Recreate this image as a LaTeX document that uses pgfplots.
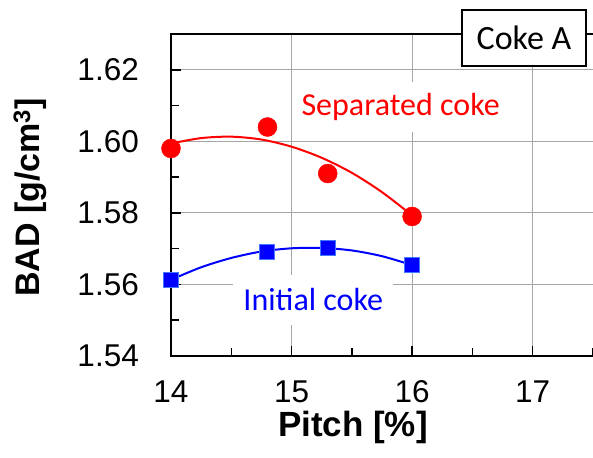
\documentclass[border=0pt]{standalone}
\usepackage{pgfplots}
\pgfplotsset{compat=1.18}
\usepackage{fontspec}
\setmainfont{Liberation Sans}
\newfontfamily\carlito{Carlito}
\definecolor{sqedge}{RGB}{70,120,255}
\begin{document}
\fontsize{30bp}{36bp}\selectfont
\begin{tikzpicture}[x=1bp,y=1bp]
\path[use as bounding box] (0,0) rectangle (593,458);
\clip (0,0) rectangle (593,458);
\begin{axis}[
  at={(171bp,102bp)}, anchor=south west,
  scale only axis, width=424bp, height=322bp,
  xmin=14, xmax=17.517, ymin=1.54, ymax=1.63,
  xtick={14,15,16,17}, ytick={1.54,1.56,1.58,1.60,1.62},
  minor xtick={14.5,15.5,16.5,17.5}, minor ytick={1.55,1.57,1.59,1.61},
  xtick pos=bottom, ytick pos=left,
  tick align=inside, major tick length=10bp, minor tick length=8bp,
  tick style={black, line width=1.5bp},
  xmajorgrids, ymajorgrids, grid style={black!35, line width=1bp},
  axis line style={line width=2bp},
  /pgf/number format/assume math mode=true,
  yticklabel style={/pgf/number format/.cd, fixed, fixed zerofill, precision=2, /tikz/.cd,
    anchor=east, inner sep=0pt, xshift=-32bp, font=\fontsize{31.5bp}{38bp}\selectfont},
  xticklabel style={anchor=center, inner sep=0pt, yshift=-36bp, font=\fontsize{31.5bp}{38bp}\selectfont},
  xlabel={Pitch [\%]},
  ylabel={BAD [g/cm\textsuperscript{3}]},
  xlabel style={at={(axis description cs:0.429,-0.2205)}, anchor=center, font=\fontsize{35bp}{40bp}\selectfont\bfseries},
  ylabel style={at={(axis description cs:-0.3325,0.492)}, anchor=center, font=\fontsize{34bp}{40bp}\selectfont\bfseries},
]
\addplot[red, line width=2bp, smooth, no marks] coordinates {
 (14,1.5994) (14.25,1.6009) (14.5,1.6013) (14.75,1.6005) (15,1.5985)
 (15.25,1.5954) (15.5,1.5912) (15.75,1.5858) (16,1.5793)};
\addplot[only marks, mark=*, mark size=9.5bp, red, mark options={fill=red, draw=red}] coordinates {
 (14,1.598) (14.8,1.604) (15.3,1.591) (16,1.579)};
\addplot[blue, line width=2bp, smooth, no marks] coordinates {
 (14,1.5613) (14.25,1.5648) (14.5,1.5674) (14.75,1.5692) (15,1.5701)
 (15.25,1.5702) (15.5,1.5695) (15.75,1.5679) (16,1.5654)};
\addplot[only marks, mark=square*, mark size=7.5bp, mark options={fill=blue, draw=sqedge, line width=1bp}] coordinates {
 (14,1.5612) (14.8,1.5692) (15.3,1.5702) (16,1.5653)};
\node[fill=white, text=red, font=\carlito\fontsize{32bp}{38bp}\selectfont, inner xsep=3bp, minimum height=50bp] at (axis cs:15.905,1.6097) {Separated coke};
\node[fill=white, text=blue, font=\carlito\fontsize{32bp}{38bp}\selectfont, minimum width=153bp, minimum height=50bp] at (axis cs:15.18,1.5557) {Initial coke};
\end{axis}
\node[draw=black, line width=1.8bp, fill=white, font=\carlito\fontsize{34bp}{40bp}\selectfont, minimum width=124bp, minimum height=56bp, inner sep=0pt] at (524,420) {Coke A};
\end{tikzpicture}
\end{document}
